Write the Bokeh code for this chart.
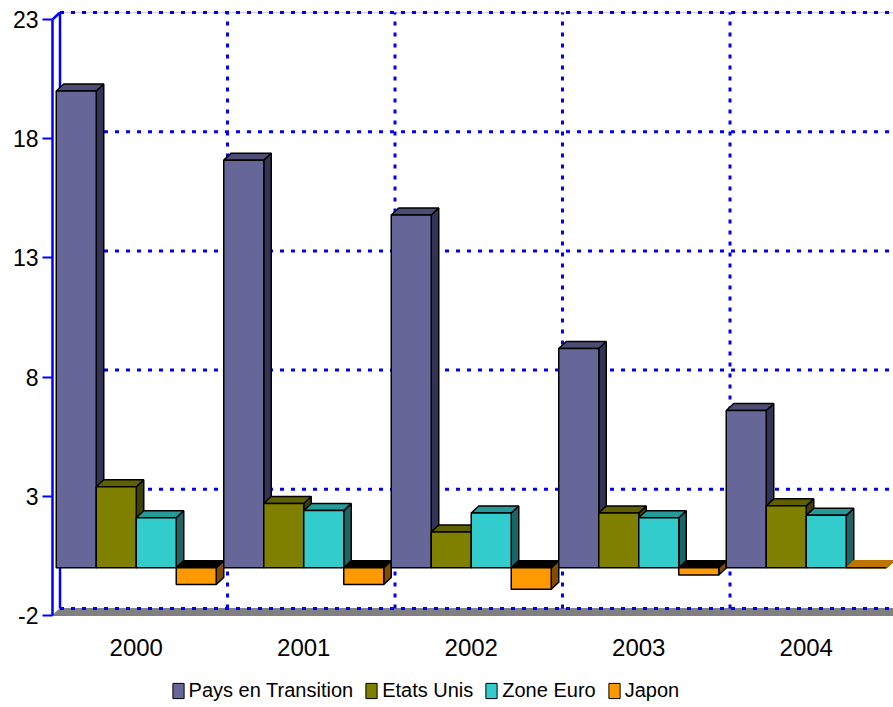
from bokeh.plotting import figure
from bokeh.layouts import column
from bokeh.models import Range1d, FixedTicker, ColumnDataSource, Legend, LegendItem
from bokeh.embed import file_html
from bokeh.resources import INLINE

# ---------------- data ----------------
years = ["2000", "2001", "2002", "2003", "2004"]
series = ["Pays en Transition", "Etats Unis", "Zone Euro", "Japon"]
pays = [20.0, 17.1, 14.8, 9.2, 6.6]
etats_unis = [3.4, 2.7, 1.5, 2.3, 2.6]
zone_euro = [2.1, 2.4, 2.3, 2.1, 2.2]
japon = [-0.7, -0.7, -0.9, -0.3, 0.0]
y_ticks = [-2, 3, 8, 13, 18, 23]
y_tick_labels = ["-2", "3", "8", "13", "18", "23"]

# ---------------- styles ----------------
front_colors = ["#666699", "#808000", "#33CCCC", "#FF9900"]
top_colors = ["#4d4d73", "#606000", "#269999", "#bf7300"]
side_colors = ["#333355", "#404000", "#1a6666", "#7f4c00"]
GRID_BLUE = "#0000FF"
FONT = "Liberation Sans"

PX_X = 167.5      # pixels per category
PX_Y = 23.84      # pixels per unit
FRAME_LEFT_PAD = 2.0
W = 893
H_CHART, H_LEG = 660, 47
BL, BT, BB = 50, 5, 40
frame_w = W - BL
frame_h = H_CHART - BT - BB
dx = 7.5 / PX_X
dy = 7.0 / PX_Y
x_start = -FRAME_LEFT_PAD / PX_X
x_end = x_start + frame_w / PX_X
y_end = 23 + 14.0 / PX_Y
y_start = y_end - frame_h / PX_Y

p = figure(width=W, height=H_CHART, output_backend="svg", toolbar_location=None,
           x_range=Range1d(x_start, x_end), y_range=Range1d(y_start, y_end),
           min_border_left=BL, min_border_right=0, min_border_top=BT,
           min_border_bottom=BB, outline_line_color=None,
           background_fill_color="white", border_fill_color="white")
p.xgrid.visible = False
p.ygrid.visible = False

# ---------------- floor ----------------
p.patch([0, x_end + 1, x_end + 1 + dx, dx], [-2, -2, -2 + dy, -2 + dy],
        fill_color="#808080", line_color="#808080", line_width=1)

# ---------------- back wall grid ----------------
p.segment(x0=[dx], y0=[23 + dy], x1=[x_end + 1], y1=[23 + dy],
          line_color="#ccccff", line_width=1)
p.segment(x0=[dx] * len(y_ticks), y0=[t + dy for t in y_ticks],
          x1=[x_end + 1] * len(y_ticks), y1=[t + dy for t in y_ticks],
          line_color=GRID_BLUE, line_width=3, line_dash="4 7")
vx = [k + dx for k in range(1, len(years))]
p.segment(x0=vx, y0=[-2 + dy] * len(vx), x1=vx, y1=[23 + dy] * len(vx),
          line_color=GRID_BLUE, line_width=3, line_dash="4 7")

# axis walls (front and back vertical lines + connector)
p.segment(x0=[0, dx, 0], y0=[-2, -2 + dy, 23], x1=[0, dx, dx], y1=[23, 23 + dy, 23 + dy],
          line_color=GRID_BLUE, line_width=2.5)

# ---------------- 3D bars ----------------
values = [pays, etats_unis, zone_euro, japon]
bar_w = 40.0 / PX_X
g0 = (1 - len(series) * bar_w) / 2
front = dict(xs=[], ys=[], fc=[])
tops = dict(xs=[], ys=[], fc=[], lc=[])
sides = dict(xs=[], ys=[], fc=[])
for i in range(len(years)):
    for j in range(len(series)):
        v = values[j][i]
        l = i + g0 + j * bar_w
        r = l + bar_w
        b, t = min(0, v), max(0, v)
        front["xs"].append([l, r, r, l]); front["ys"].append([b, b, t, t])
        front["fc"].append(front_colors[j])
        tops["xs"].append([l, r, r + dx, l + dx]); tops["ys"].append([t, t, t + dy, t + dy])
        if v < 0:
            tops["fc"].append("#000000"); tops["lc"].append("#000000")
        elif v == 0:
            tops["fc"].append(top_colors[j]); tops["lc"].append(top_colors[j])
        else:
            tops["fc"].append(top_colors[j]); tops["lc"].append("#000000")
        sides["xs"].append([r, r + dx, r + dx, r]); sides["ys"].append([b, b + dy, t + dy, t])
        sides["fc"].append(side_colors[j])

p.patches("xs", "ys", source=ColumnDataSource(sides), fill_color="fc",
          line_color="black", line_width=1.5)
p.patches("xs", "ys", source=ColumnDataSource(tops), fill_color="fc",
          line_color="lc", line_width=1.5)
p.patches("xs", "ys", source=ColumnDataSource(front), fill_color="fc",
          line_color="black", line_width=1.5)

# ---------------- axes ----------------
p.xaxis.ticker = FixedTicker(ticks=[i + 0.5 for i in range(len(years))])
p.xaxis.major_label_overrides = {i + 0.5: y for i, y in enumerate(years)}
p.xaxis.axis_line_color = None
p.xaxis.major_tick_line_color = None
p.xaxis.minor_tick_line_color = None
p.xaxis.major_label_standoff = 12
p.xaxis.major_label_text_font = FONT
p.xaxis.major_label_text_font_size = "24px"
p.xaxis.major_label_text_color = "black"

p.yaxis.ticker = FixedTicker(ticks=y_ticks)
p.yaxis.major_label_overrides = {t: s for t, s in zip(y_ticks, y_tick_labels)}
p.yaxis.axis_line_color = None
p.yaxis.major_tick_line_color = GRID_BLUE
p.yaxis.major_tick_line_width = 2
p.yaxis.major_tick_out = 8
p.yaxis.major_tick_in = 2
p.yaxis.minor_tick_line_color = None
p.yaxis.major_label_standoff = 4
p.yaxis.major_label_text_font = FONT
p.yaxis.major_label_text_font_size = "23px"
p.yaxis.major_label_text_color = "black"

# ---------------- legend (separate strip) ----------------
pl = figure(width=W, height=H_LEG, output_backend="svg", toolbar_location=None,
            x_range=Range1d(0, 10), y_range=Range1d(0, 10), min_border=0,
            outline_line_color=None, background_fill_color="white",
            border_fill_color="white")
pl.xaxis.visible = False
pl.yaxis.visible = False
pl.xgrid.visible = False
pl.ygrid.visible = False
items = []
for j, name in enumerate(series):
    # off-range swatch renderer: only its legend glyph is visible
    r = pl.quad(left=[-20], right=[-19], bottom=[-20], top=[-19],
                fill_color=front_colors[j], line_color="black", line_width=1)
    items.append(LegendItem(label=name, renderers=[r]))
legend = Legend(items=items, orientation="horizontal", location=(120.6, 5.5),
                glyph_width=14, glyph_height=19, label_standoff=4, spacing=11,
                padding=0, margin=0, border_line_color=None, background_fill_alpha=0,
                label_text_font=FONT, label_text_font_size="20px",
                label_text_color="black")
pl.add_layout(legend)

layout = column(p, pl, spacing=0)
open("out.html", "w").write(file_html(layout, INLINE))
